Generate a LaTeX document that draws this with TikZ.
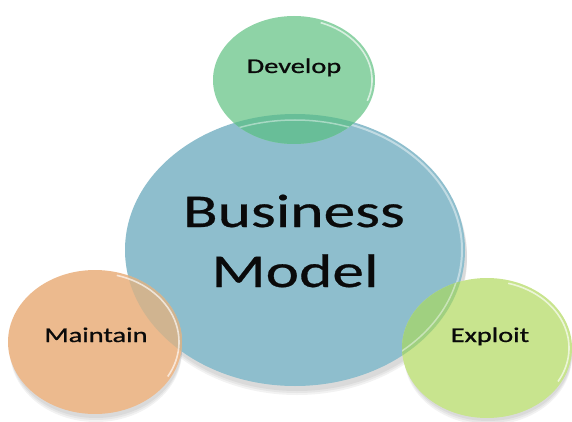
\documentclass[tikz,border=0pt]{standalone}
\usepackage{fontspec}
\setmainfont{Carlito}
\usetikzlibrary{shapes.geometric}
\definecolor{bmblue}{RGB}{142,190,205}
\definecolor{devgreen}{RGB}{142,211,166}
\definecolor{devover}{RGB}{104,190,152}
\definecolor{mainorange}{RGB}{236,186,142}
\definecolor{mainover}{RGB}{208,180,144}
\definecolor{expgreen}{RGB}{200,228,142}
\definecolor{expover}{RGB}{160,208,128}
\definecolor{txt}{RGB}{10,10,10}
\tikzset{
  blob/.style={ellipse, inner sep=0pt, draw=none},
  rim/.style={draw=white, line width=1.6pt, opacity=0.65},
  shade/.style={fill=black, opacity=0.05},
  lbl/.style={anchor=base, text=txt, xscale=1.35, inner sep=0pt, font=\fontsize{21}{25}\selectfont\addfontfeature{FakeBold=0.8}},
  biglbl/.style={anchor=base, text=txt, xscale=1.35, inner sep=0pt, font=\fontsize{47}{56}\selectfont\addfontfeature{FakeBold=0.5}}
}
\begin{document}
\begin{tikzpicture}[x=1pt,y=-1pt]
\useasboundingbox (0,0) rectangle (572,422);
% shadows
\foreach \d in {2,4,6}{
  \fill[shade] (297,253+\d) ellipse [x radius=170, y radius=136];
  \fill[shade] (96,345+\d) ellipse [x radius=86, y radius=71];
  \fill[shade] (488,350+\d) ellipse [x radius=84, y radius=69];
}
% big circle
\node[blob, fill=bmblue, minimum width=340pt, minimum height=272pt] (bm) at (295,250) {};
\draw[rim, draw=white!70!bmblue, line width=2pt] (295,250) ++(-80:167 and 133) arc[start angle=-80, end angle=25, x radius=167, y radius=133];
% develop
\node[blob, fill=devgreen, minimum width=162pt, minimum height=128pt] (dev) at (294,80) {};
\begin{scope}
  \clip (295,250) ellipse [x radius=170, y radius=136];
  \clip (294,80) ellipse [x radius=81, y radius=64];
  \fill[devover] (294,80) ellipse [x radius=81, y radius=64];
  \draw[draw=white!60!devover, line width=1.5pt, opacity=0.7] (295,252) ellipse [x radius=166, y radius=132];
\end{scope}
\draw[rim] (294,80) ++(-70:78 and 61) arc[start angle=-70, end angle=20, x radius=78, y radius=61];
% maintain
\node[blob, fill=mainorange, minimum width=174pt, minimum height=144pt] (mnt) at (95,342) {};
\begin{scope}
  \clip (295,250) ellipse [x radius=170, y radius=136];
  \fill[mainover] (95,342) ellipse [x radius=87, y radius=72];
\end{scope}
\draw[rim] (95,342) ++(-75:84 and 69) arc[start angle=-75, end angle=30, x radius=84, y radius=69];
% exploit
\node[blob, fill=expgreen, minimum width=170pt, minimum height=140pt] (exp) at (487,348) {};
\begin{scope}
  \clip (295,250) ellipse [x radius=170, y radius=136];
  \clip (487,348) ellipse [x radius=85, y radius=70];
  \fill[expover] (487,348) ellipse [x radius=85, y radius=70];
  \draw[draw=white!55!expover, line width=1.5pt, opacity=0.8] (295,250) ellipse [x radius=166, y radius=132];
\end{scope}
\draw[rim] (487,348) ++(-75:82 and 67) arc[start angle=-75, end angle=30, x radius=82, y radius=67];
% labels
\node[biglbl] (t1) at (294,227) {Business};
\node[biglbl] (t2) at (295,287) {Model};
\node[lbl] (t3) at (294,73) {Develop};
\node[lbl] (t4) at (96,342) {Maintain};
\node[lbl] (t5) at (490,342) {Exploit};
\end{tikzpicture}
\end{document}
